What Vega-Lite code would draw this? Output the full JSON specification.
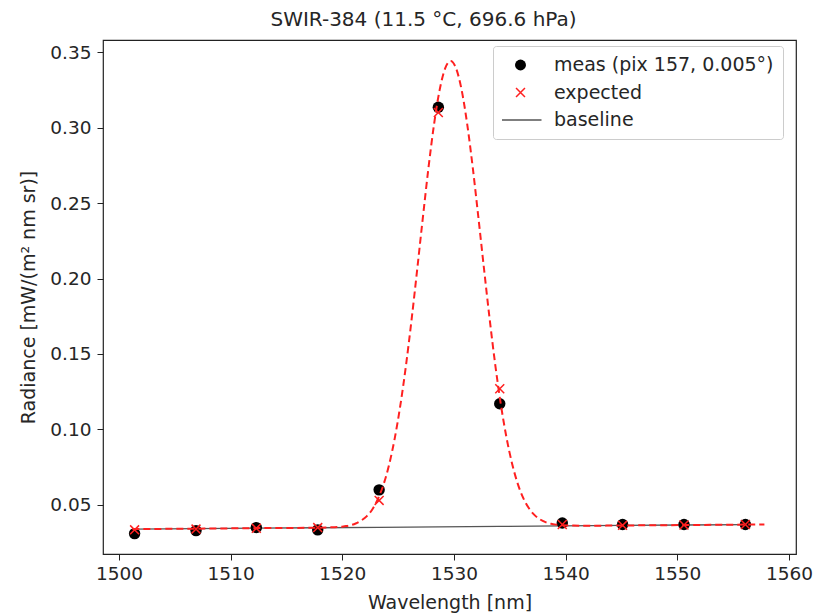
{
  "$schema": "https://vega.github.io/schema/vega-lite/v6.json",
  "autosize": {"type": "none"},
  "padding": {"left": 103, "top": 40, "right": 21, "bottom": 62},
  "width": 693,
  "height": 514,
  "background": "white",
  "config": {
    "font": "DejaVu Sans",
    "view": {"stroke": "#222", "strokeWidth": 1.2},
    "axis": {
      "domain": false,
      "grid": false,
      "tickColor": "#222",
      "tickSize": 6,
      "labelFontSize": 18.5,
      "labelColor": "#262626",
      "titleFontSize": 19,
      "titleFontWeight": "normal",
      "titleColor": "#262626"
    },
    "title": {"fontSize": 20, "fontWeight": "normal", "color": "#262626"}
  },
  "title": {"text": "SWIR-384 (11.5 °C, 696.6 hPa)", "offset": 10, "dx": -26},
  "datasets": {
    "meas": [
      {"wavelength": 1501.4, "radiance": 0.0310, "series": "meas (pix 157, 0.005°)"},
      {"wavelength": 1506.9, "radiance": 0.0330, "series": "meas (pix 157, 0.005°)"},
      {"wavelength": 1512.3, "radiance": 0.0350, "series": "meas (pix 157, 0.005°)"},
      {"wavelength": 1517.8, "radiance": 0.0335, "series": "meas (pix 157, 0.005°)"},
      {"wavelength": 1523.3, "radiance": 0.0600, "series": "meas (pix 157, 0.005°)"},
      {"wavelength": 1528.6, "radiance": 0.3135, "series": "meas (pix 157, 0.005°)"},
      {"wavelength": 1534.1, "radiance": 0.1170, "series": "meas (pix 157, 0.005°)"},
      {"wavelength": 1539.7, "radiance": 0.0380, "series": "meas (pix 157, 0.005°)"},
      {"wavelength": 1545.1, "radiance": 0.0370, "series": "meas (pix 157, 0.005°)"},
      {"wavelength": 1550.6, "radiance": 0.0370, "series": "meas (pix 157, 0.005°)"},
      {"wavelength": 1556.1, "radiance": 0.0370, "series": "meas (pix 157, 0.005°)"}
    ],
    "expected": [
      {"wavelength": 1501.4, "radiance": 0.0335, "series": "expected"},
      {"wavelength": 1506.9, "radiance": 0.0340, "series": "expected"},
      {"wavelength": 1512.3, "radiance": 0.0345, "series": "expected"},
      {"wavelength": 1517.8, "radiance": 0.0350, "series": "expected"},
      {"wavelength": 1523.3, "radiance": 0.0530, "series": "expected"},
      {"wavelength": 1528.6, "radiance": 0.3100, "series": "expected"},
      {"wavelength": 1534.1, "radiance": 0.1270, "series": "expected"},
      {"wavelength": 1539.7, "radiance": 0.0370, "series": "expected"},
      {"wavelength": 1545.1, "radiance": 0.0365, "series": "expected"},
      {"wavelength": 1550.6, "radiance": 0.0367, "series": "expected"},
      {"wavelength": 1556.1, "radiance": 0.0370, "series": "expected"}
    ],
    "baseline": [
      {"wavelength": 1501.4, "radiance": 0.0340, "series": "baseline"},
      {"wavelength": 1506.9, "radiance": 0.0343, "series": "baseline"},
      {"wavelength": 1512.3, "radiance": 0.0346, "series": "baseline"},
      {"wavelength": 1517.8, "radiance": 0.0349, "series": "baseline"},
      {"wavelength": 1523.3, "radiance": 0.0352, "series": "baseline"},
      {"wavelength": 1528.6, "radiance": 0.0355, "series": "baseline"},
      {"wavelength": 1534.1, "radiance": 0.0358, "series": "baseline"},
      {"wavelength": 1539.7, "radiance": 0.0361, "series": "baseline"},
      {"wavelength": 1545.1, "radiance": 0.0364, "series": "baseline"},
      {"wavelength": 1550.6, "radiance": 0.0367, "series": "baseline"},
      {"wavelength": 1556.1, "radiance": 0.0370, "series": "baseline"}
    ],
    "fit": [
      {"wavelength": 1501.2, "radiance": 0.0340},
      {"wavelength": 1505.0, "radiance": 0.0342},
      {"wavelength": 1509.0, "radiance": 0.0344},
      {"wavelength": 1513.0, "radiance": 0.0347},
      {"wavelength": 1517.7, "radiance": 0.0349},
      {"wavelength": 1518.7, "radiance": 0.0351},
      {"wavelength": 1519.7, "radiance": 0.0354},
      {"wavelength": 1520.2, "radiance": 0.0359},
      {"wavelength": 1520.7, "radiance": 0.0365},
      {"wavelength": 1521.2, "radiance": 0.0377},
      {"wavelength": 1521.7, "radiance": 0.0397},
      {"wavelength": 1522.2, "radiance": 0.0426},
      {"wavelength": 1522.7, "radiance": 0.0472},
      {"wavelength": 1523.2, "radiance": 0.0541},
      {"wavelength": 1523.7, "radiance": 0.0637},
      {"wavelength": 1524.2, "radiance": 0.0769},
      {"wavelength": 1524.7, "radiance": 0.0943},
      {"wavelength": 1525.2, "radiance": 0.1161},
      {"wavelength": 1525.7, "radiance": 0.1423},
      {"wavelength": 1526.2, "radiance": 0.1725},
      {"wavelength": 1526.7, "radiance": 0.2055},
      {"wavelength": 1527.2, "radiance": 0.2394},
      {"wavelength": 1527.7, "radiance": 0.2722},
      {"wavelength": 1528.2, "radiance": 0.3013},
      {"wavelength": 1528.7, "radiance": 0.3243},
      {"wavelength": 1529.2, "radiance": 0.3390},
      {"wavelength": 1529.7, "radiance": 0.3441},
      {"wavelength": 1530.2, "radiance": 0.3390},
      {"wavelength": 1530.7, "radiance": 0.3244},
      {"wavelength": 1531.2, "radiance": 0.3015},
      {"wavelength": 1531.7, "radiance": 0.2724},
      {"wavelength": 1532.2, "radiance": 0.2396},
      {"wavelength": 1532.7, "radiance": 0.2058},
      {"wavelength": 1533.2, "radiance": 0.1729},
      {"wavelength": 1533.7, "radiance": 0.1427},
      {"wavelength": 1534.2, "radiance": 0.1165},
      {"wavelength": 1534.7, "radiance": 0.0948},
      {"wavelength": 1535.2, "radiance": 0.0775},
      {"wavelength": 1535.7, "radiance": 0.0643},
      {"wavelength": 1536.2, "radiance": 0.0547},
      {"wavelength": 1536.7, "radiance": 0.0480},
      {"wavelength": 1537.2, "radiance": 0.0434},
      {"wavelength": 1537.7, "radiance": 0.0405},
      {"wavelength": 1538.2, "radiance": 0.0386},
      {"wavelength": 1538.7, "radiance": 0.0375},
      {"wavelength": 1539.2, "radiance": 0.0369},
      {"wavelength": 1539.7, "radiance": 0.0365},
      {"wavelength": 1540.7, "radiance": 0.0363},
      {"wavelength": 1541.7, "radiance": 0.0362},
      {"wavelength": 1545.0, "radiance": 0.0364},
      {"wavelength": 1549.0, "radiance": 0.0366},
      {"wavelength": 1553.0, "radiance": 0.0368},
      {"wavelength": 1557.8, "radiance": 0.0371}
    ]
  },
  "encoding": {
    "x": {
      "field": "wavelength",
      "type": "quantitative",
      "scale": {"domain": [1498.57, 1560.63], "nice": false, "zero": false},
      "axis": {"title": "Wavelength [nm]", "values": [1500, 1510, 1520, 1530, 1540, 1550, 1560], "format": "d", "labelPadding": 4, "titlePadding": 11}
    },
    "y": {
      "field": "radiance",
      "type": "quantitative",
      "scale": {"domain": [0.0175, 0.358], "nice": false, "zero": false},
      "axis": {"title": "Radiance [mW/(m² nm sr)]", "values": [0.05, 0.1, 0.15, 0.2, 0.25, 0.3, 0.35], "format": ".2f", "labelPadding": 6, "titlePadding": 11}
    }
  },
  "layer": [
    {
      "data": {"name": "baseline"},
      "mark": {"type": "line", "strokeWidth": 1.3, "color": "#555555"},
      "encoding": {
        "color": {
          "field": "series",
          "type": "nominal",
          "scale": {
            "domain": ["meas (pix 157, 0.005°)", "expected", "baseline"],
            "range": ["black", "#ff2020", "#555555"]
          },
          "legend": {
            "title": null,
            "orient": "none",
            "legendX": 390,
            "legendY": 6,
            "padding": 9,
            "labelFontSize": 19,
            "labelColor": "#262626",
            "labelLimit": 400,
            "labelOffset": 24,
            "symbolOffset": 9,
            "clipHeight": 20,
            "rowPadding": 7.5,
            "strokeColor": "#cccccc",
            "fillColor": "white",
            "cornerRadius": 3,
            "encode": {
              "symbols": {
                "update": {
                  "fill": {"signal": "datum.value === 'meas (pix 157, 0.005°)' ? 'black' : 'transparent'"},
                  "stroke": {"signal": "datum.value === 'expected' ? '#ff2020' : datum.value === 'baseline' ? '#555555' : 'black'"},
                  "strokeWidth": {"signal": "datum.value === 'meas (pix 157, 0.005°)' ? 0 : 1.5"},
                  "size": {"signal": "datum.value === 'baseline' ? 1764 : datum.value === 'expected' ? 80 : 120"}
                }
              }
            }
          }
        },
        "shape": {
          "field": "series",
          "type": "nominal",
          "scale": {
            "domain": ["meas (pix 157, 0.005°)", "expected", "baseline"],
            "range": ["circle", "M-1,-1L1,1M1,-1L-1,1", "stroke"]
          }
        }
      }
    },
    {
      "data": {"name": "meas"},
      "mark": {"type": "point", "filled": true, "size": 130, "opacity": 1},
      "encoding": {
        "color": {"field": "series", "type": "nominal"},
        "shape": {"field": "series", "type": "nominal"}
      }
    },
    {
      "data": {"name": "expected"},
      "mark": {"type": "point", "filled": false, "size": 80, "strokeWidth": 1.5, "opacity": 1},
      "encoding": {
        "color": {"field": "series", "type": "nominal"},
        "shape": {"field": "series", "type": "nominal"}
      }
    },
    {
      "data": {"name": "fit"},
      "mark": {"type": "line", "color": "#ff2020", "strokeWidth": 2, "strokeDash": [7, 4], "interpolate": "monotone"},
      "encoding": {}
    }
  ]
}
